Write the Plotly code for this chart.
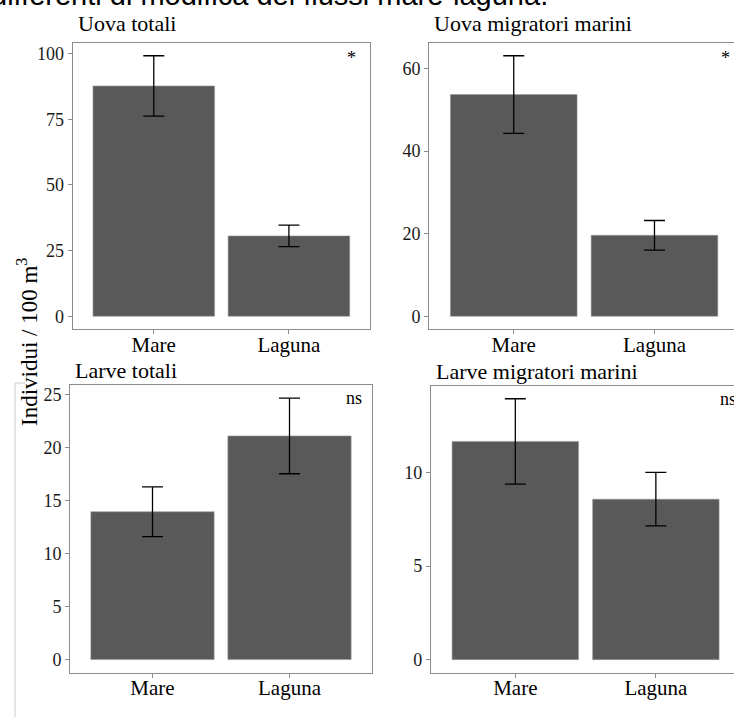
import plotly.graph_objects as go

W, H = 734, 717

categories = ["Mare", "Laguna"]

panel_titles = ["Uova totali", "Uova migratori marini", "Larve totali", "Larve migratori marini"]
significance = ["*", "*", "ns", "ns"]

uova_totali_mean = [87.7, 30.6]
uova_totali_se = [11.5, 4.1]
uova_migr_mean = [53.7, 19.6]
uova_migr_se = [9.4, 3.6]
larve_totali_mean = [13.95, 21.1]
larve_totali_se = [2.35, 3.57]
larve_migr_mean = [11.67, 8.58]
larve_migr_se = [2.28, 1.43]

y_ticks = [[0, 25, 50, 75, 100], [0, 20, 40, 60], [0, 5, 10, 15, 20, 25], [0, 5, 10]]

means = [uova_totali_mean, uova_migr_mean, larve_totali_mean, larve_migr_mean]
ses = [uova_totali_se, uova_migr_se, larve_totali_se, larve_migr_se]

# panel boxes in pixels: (left, right, top, bottom)
boxes = [(72.7, 370.0, 42.7, 329.3), (429.3, 734.0, 42.7, 329.3),
         (70.3, 371.7, 385.0, 672.7), (431.0, 734.0, 385.7, 672.7)]
x_ranges = [[-0.6, 1.6], [-0.6, 1.565], [-0.6, 1.6], [-0.6, 1.556]]
title_y = [24, 24, 370, 371]

BAR = "#595959"
FRAME = "#8c8c8c"
SERIF = "Liberation Serif, Times New Roman, serif"

fig = go.Figure()
layout = dict(width=W, height=H, margin=dict(l=0, r=0, t=0, b=0),
              paper_bgcolor="white", plot_bgcolor="white", showlegend=False,
              bargap=0.1, font=dict(family=SERIF, color="black"))
annotations = []
shapes = []

for i in range(4):
    n = "" if i == 0 else str(i + 1)
    L, R, T, B = boxes[i]
    m, s = means[i], ses[i]
    fig.add_trace(go.Bar(
        x=categories, y=m, xaxis="x" + n, yaxis="y" + n,
        marker=dict(color=BAR, line=dict(color="#9a9a9a", width=0.6)),
        error_y=dict(type="data", array=s, symmetric=True, color="black",
                     thickness=1.3, width=10.5),
        hoverinfo="skip"))
    top = max(a + b for a, b in zip(m, s))
    yr = [-0.05 * top, 1.05 * top]
    right_clipped = i in (1, 3)
    layout["xaxis" + n] = dict(
        domain=[L / W, R / W], anchor="y" + n, range=x_ranges[i], type="category",
        showline=True, linecolor=FRAME, linewidth=1.2, mirror=True,
        ticks="outside", ticklen=4, tickcolor=FRAME, showgrid=False, zeroline=False,
        ticklabelstandoff=-8,
        tickfont=dict(family=SERIF, size=21, color="black"), fixedrange=True)
    layout["yaxis" + n] = dict(
        domain=[1 - B / H, 1 - T / H], anchor="x" + n, range=yr,
        showline=True, linecolor=FRAME, linewidth=1.2, mirror=not right_clipped,
        ticks="outside", ticklen=4, tickcolor=FRAME, showgrid=False, zeroline=False,
        tickvals=y_ticks[i], tickfont=dict(family=SERIF, size=18, color="#1a1a1a"),
        fixedrange=True)
    # panel title
    annotations.append(dict(text=panel_titles[i], xref="paper", yref="paper",
                            x=(L + 3) / W, y=1 - title_y[i] / H, xanchor="left", yanchor="middle",
                            showarrow=False, font=dict(family=SERIF, size=22, color="black")))
    # significance
    sig_x = {0: 351, 1: 725, 2: 354, 3: 728}[i]
    sig_y = T + (15 if significance[i] == "*" else 13)
    annotations.append(dict(text=significance[i], xref="paper", yref="paper",
                            x=sig_x / W, y=1 - sig_y / H, xanchor="center", yanchor="middle",
                            showarrow=False, font=dict(family=SERIF, size=18, color="black")))

# y axis title
annotations.append(dict(text="Individui / 100 m<sup>3</sup>", xref="paper", yref="paper",
                        x=27 / W, y=1 - 342 / H, textangle=-90, xanchor="center", yanchor="middle",
                        showarrow=False, font=dict(family=SERIF, size=23, color="black")))

# cut-off heading text at the very top
annotations.append(dict(text="differenti di modifica dei flussi mare-laguna.", xref="paper", yref="paper",
                        x=550 / W, y=1 - 13 / H, xanchor="right", yanchor="bottom",
                        showarrow=False, font=dict(family="Liberation Sans, Arial, sans-serif", size=29, color="black")))

# thin decoration line on the left
shapes.append(dict(type="line", xref="paper", yref="paper", x0=15 / W, x1=15 / W,
                   y0=0, y1=1 - 383 / H, line=dict(color="#cccccc", width=1)))
shapes.append(dict(type="line", xref="paper", yref="paper", x0=15 / W, x1=25 / W,
                   y0=1 - 383 / H, y1=1 - 383 / H, line=dict(color="#cccccc", width=1)))

layout["annotations"] = annotations
layout["shapes"] = shapes
fig.update_layout(**layout)
fig.write_html("out.html", config={"displayModeBar": False},
               post_script="document.body.style.margin='0';")
